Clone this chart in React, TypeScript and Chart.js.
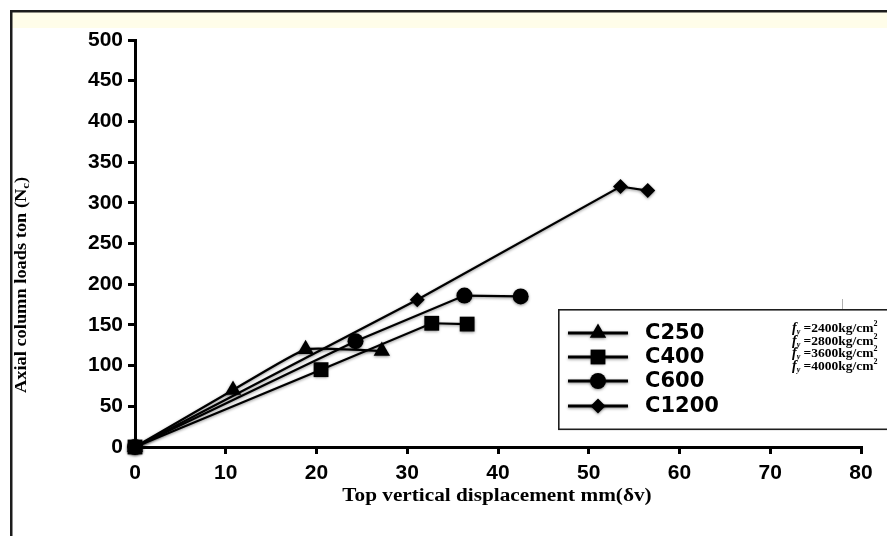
import React, { useEffect, useRef } from "react";
import { Chart, registerables } from "chart.js";

Chart.register(...registerables);

// Axis ticks
const xTickValues = [0, 10, 20, 30, 40, 50, 60, 70, 80];
const yTickValues = [0, 50, 100, 150, 200, 250, 300, 350, 400, 450, 500];

// Series labels, marker shapes and steel yield strengths shown in the legend
const seriesNames = ["C250", "C400", "C600", "C1200"];
const markerStyles = ["triangle", "rect", "circle", "rectRot"];
const markerRadii = [9.5, 10.5, 8, 7.5];
const yieldStrengths = ["2400", "2800", "3600", "4000"];

// Top vertical displacement (mm) vs axial column load (ton)
const c250Disp = [0, 10.8, 18.8, 27.2];
const c250Load = [0, 70, 120, 118];

const c400Disp = [0, 20.5, 32.7, 36.6];
const c400Load = [0, 95, 152, 151];

const c600Disp = [0, 24.3, 36.3, 42.5];
const c600Load = [0, 130, 186, 185];

const c1200Disp = [0, 31.1, 53.5, 56.5];
const c1200Load = [0, 181, 320, 315];

const seriesDisp = [c250Disp, c400Disp, c600Disp, c1200Disp];
const seriesLoad = [c250Load, c400Load, c600Load, c1200Load];

const SANS = "'Liberation Sans', Arial, sans-serif";
const SERIF = "'Liberation Serif', 'Times New Roman', serif";

function drawMarker(ctx: CanvasRenderingContext2D, style: string, x: number, y: number, r: number) {
  ctx.beginPath();
  if (style === "triangle") {
    ctx.moveTo(x, y - r);
    ctx.lineTo(x + 0.866 * r, y + 0.5 * r);
    ctx.lineTo(x - 0.866 * r, y + 0.5 * r);
    ctx.closePath();
  } else if (style === "rect") {
    const s = r * Math.SQRT1_2;
    ctx.rect(x - s, y - s, 2 * s, 2 * s);
  } else if (style === "circle") {
    ctx.arc(x, y, r, 0, Math.PI * 2);
  } else {
    ctx.moveTo(x - r, y);
    ctx.lineTo(x, y - r);
    ctx.lineTo(x + r, y);
    ctx.lineTo(x, y + r);
    ctx.closePath();
  }
  ctx.fill();
}

const shadowPlugin = {
  id: "lineShadow",
  beforeDatasetsDraw(chart: any) {
    const ctx = chart.ctx;
    ctx.save();
    ctx.shadowColor = "rgba(0,0,0,0.45)";
    ctx.shadowBlur = 3;
    ctx.shadowOffsetY = 1;
  },
  afterDatasetsDraw(chart: any) {
    chart.ctx.restore();
  },
};

const decorPlugin = {
  id: "decor",
  beforeDraw(chart: any) {
    const { ctx, width, height } = chart;
    ctx.save();
    ctx.fillStyle = "#ffffff";
    ctx.fillRect(0, 0, width, height);
    // pale header strip
    ctx.fillStyle = "#FFFDE9";
    ctx.fillRect(12, 12, width - 12, 16);
    // outer frame (left and top edges)
    ctx.strokeStyle = "#1c1c1c";
    ctx.lineWidth = 2.5;
    ctx.beginPath();
    ctx.moveTo(11.25, height);
    ctx.lineTo(11.25, 11.25);
    ctx.lineTo(width, 11.25);
    ctx.stroke();
    ctx.restore();
  },
  afterDraw(chart: any) {
    const ctx: CanvasRenderingContext2D = chart.ctx;
    ctx.save();

    // x-axis title (slightly widened lettering)
    ctx.save();
    ctx.translate(497, 501);
    ctx.scale(1.18, 1);
    ctx.fillStyle = "#000";
    ctx.font = `bold 18px ${SERIF}`;
    ctx.textAlign = "center";
    ctx.textBaseline = "alphabetic";
    ctx.fillText("Top vertical displacement mm(\u03b4v)", 0, 0);
    ctx.restore();

    // y-axis title with subscript
    ctx.save();
    ctx.translate(26, 285);
    ctx.rotate(-Math.PI / 2);
    ctx.scale(1.15, 1);
    const mainFont = `bold 16px ${SERIF}`;
    const subFont = `bold 11px ${SERIF}`;
    const partA = "Axial column loads ton (N";
    const partB = "c";
    const partC = ")";
    ctx.font = mainFont;
    const wA = ctx.measureText(partA).width;
    const wC = ctx.measureText(partC).width;
    ctx.font = subFont;
    const wB = ctx.measureText(partB).width;
    const total = wA + wB + wC;
    let tx = -total / 2;
    ctx.fillStyle = "#000";
    ctx.textAlign = "left";
    ctx.textBaseline = "alphabetic";
    ctx.font = mainFont;
    ctx.fillText(partA, tx, 0);
    tx += wA;
    ctx.font = subFont;
    ctx.fillText(partB, tx, 3);
    tx += wB;
    ctx.font = mainFont;
    ctx.fillText(partC, tx, 0);
    ctx.restore();

    // small mark above the legend box
    ctx.strokeStyle = "#b0b0b0";
    ctx.lineWidth = 1;
    ctx.beginPath();
    ctx.moveTo(842.5, 299);
    ctx.lineTo(842.5, 309);
    ctx.stroke();

    // legend box
    ctx.fillStyle = "#fff";
    ctx.fillRect(559, 310, 340, 119);
    ctx.strokeStyle = "#1e1e1e";
    ctx.lineWidth = 1.6;
    ctx.strokeRect(558.8, 309.8, 340, 119.5);

    const rows = [333, 357, 381, 406];
    seriesNames.forEach((name, i) => {
      const y = rows[i];
      ctx.save();
      ctx.shadowColor = "rgba(0,0,0,0.45)";
      ctx.shadowBlur = 3;
      ctx.shadowOffsetY = 1;
      ctx.strokeStyle = "#000";
      ctx.lineWidth = 3;
      ctx.beginPath();
      ctx.moveTo(568, y);
      ctx.lineTo(628, y);
      ctx.stroke();
      ctx.fillStyle = "#000";
      drawMarker(ctx, markerStyles[i], 598, y, markerRadii[i]);
      ctx.restore();

      ctx.fillStyle = "#000";
      ctx.font = `bold 21px 'DejaVu Sans', ${SANS}`;
      ctx.textAlign = "left";
      ctx.textBaseline = "middle";
      ctx.fillText(name, 645, y + 1);
    });

    // yield strength notes
    const fyRows = [332, 344.5, 357, 369.5];
    yieldStrengths.forEach((fy, i) => {
      const by = fyRows[i];
      let x = 792;
      ctx.textAlign = "left";
      ctx.textBaseline = "alphabetic";
      ctx.fillStyle = "#000";
      ctx.font = `italic bold 14px ${SERIF}`;
      ctx.fillText("f", x, by);
      x += ctx.measureText("f").width;
      ctx.font = `italic bold 8px ${SERIF}`;
      ctx.fillText("y", x, by + 2);
      x += ctx.measureText("y").width;
      ctx.font = `bold 13.5px ${SERIF}`;
      const body = ` =${fy}kg/cm`;
      ctx.fillText(body, x, by);
      x += ctx.measureText(body).width;
      ctx.font = `bold 8px ${SERIF}`;
      ctx.fillText("2", x, by - 6);
    });

    ctx.restore();
  },
};

export default function App() {
  const canvasRef = useRef<HTMLCanvasElement | null>(null);

  useEffect(() => {
    const canvas = canvasRef.current;
    if (!canvas) return;

    const datasets = seriesNames.map((name, i) => ({
      label: name,
      data: seriesDisp[i].map((d, j) => ({ x: d, y: seriesLoad[i][j] })),
      borderColor: "#000",
      backgroundColor: "#000",
      borderWidth: 2.2,
      pointStyle: markerStyles[i] as any,
      pointRadius: markerRadii[i],
      pointBackgroundColor: "#000",
      pointBorderColor: "#000",
      pointBorderWidth: 0,
      tension: i === 0 ? 0.12 : 0,
      showLine: true,
      clip: false as any,
    }));

    const tickFont = { family: SANS, size: 21, weight: "bold" as const };

    const chart = new Chart(canvas, {
      type: "line",
      data: { datasets },
      options: {
        animation: false,
        responsive: false,
        devicePixelRatio: 1,
        events: [],
        layout: { padding: { top: 40, right: 26, left: 0, bottom: 0 } },
        plugins: {
          legend: { display: false },
          tooltip: { enabled: false },
        },
        scales: {
          x: {
            type: "linear",
            min: 0,
            max: 80,
            afterBuildTicks: (scale: any) => {
              scale.ticks = xTickValues.map((v) => ({ value: v }));
            },
            afterFit: (scale: any) => {
              scale.height = 89;
            },
            ticks: { color: "#000", font: tickFont, padding: 7, maxRotation: 0 },
            grid: {
              display: true,
              drawOnChartArea: false,
              drawTicks: true,
              tickLength: 7,
              color: "#000",
              lineWidth: 3,
            },
            border: { display: true, color: "#000", width: 3 },
          },
          y: {
            type: "linear",
            min: 0,
            max: 500,
            afterBuildTicks: (scale: any) => {
              scale.ticks = yTickValues.map((v) => ({ value: v }));
            },
            afterFit: (scale: any) => {
              scale.width = 135;
            },
            ticks: { color: "#000", font: tickFont, padding: 5 },
            grid: {
              display: true,
              drawOnChartArea: false,
              drawTicks: true,
              tickLength: 7,
              color: "#000",
              lineWidth: 3,
            },
            border: { display: true, color: "#000", width: 3 },
          },
        },
      },
      plugins: [decorPlugin, shadowPlugin],
    });

    return () => chart.destroy();
  }, []);

  return (
    <div style={{ position: "absolute", left: 0, top: 0, width: 887, height: 536 }}>
      <canvas ref={canvasRef} width={887} height={536} style={{ display: "block" }} />
    </div>
  );
}
